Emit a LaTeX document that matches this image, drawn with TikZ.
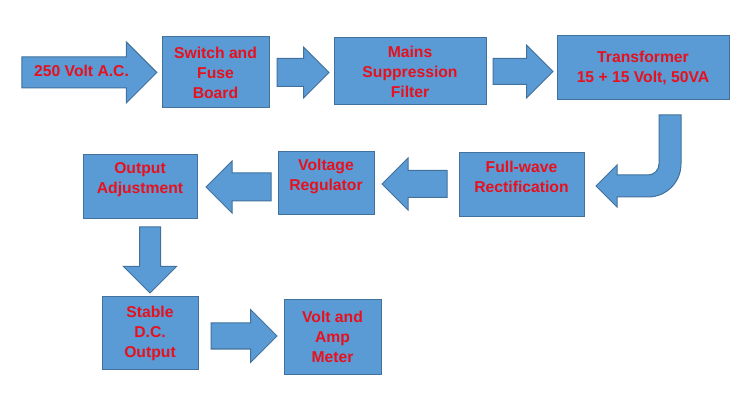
\documentclass[tikz,border=0pt]{standalone}
\usepackage{fontspec}
\setmainfont{Liberation Sans}
\usetikzlibrary{shapes.arrows,positioning}
\definecolor{boxfill}{RGB}{91,155,213}
\definecolor{boxline}{RGB}{65,113,156}
\definecolor{txtred}{RGB}{232,16,28}

\begin{document}
\begin{tikzpicture}[x=1pt,y=-1pt,
		label font/.style={text=txtred,font=\fontsize{15.7}{20}\selectfont\bfseries},
		block/.style={draw=boxline,fill=boxfill,line width=1pt,label font,align=center,inner sep=0pt},
		raised/.style={text depth=17pt},
		fatarrow/.style n args={3}{single arrow,draw=boxline,fill=boxfill,line width=1pt,label font,
			text height=0pt,text depth=0pt,inner xsep=0pt,inner ysep=#2/2,
			minimum height=#1,minimum width=0pt,single arrow head extend=#3}]
	\fill[white] (0,0) rectangle (753,406);
	\useasboundingbox (0,0) rectangle (753,406);
	
	% blocks
	\node[block,minimum width=107pt,minimum height=71pt] (switch) at (215.5,72.5) {Switch and\\Fuse\\Board};
	\node[block,minimum width=152pt,minimum height=67pt] (mains) at (410,71.5) {Mains\\Suppression\\Filter};
	\node[block,minimum width=172pt,minimum height=64pt] (trafo) at (643,68) {Transformer\\15 + 15 Volt, 50VA};
	\node[block,raised,minimum width=125pt,minimum height=64pt] (rect) at (521.5,185) {Full-wave\\Rectification};
	\node[block,raised,minimum width=96pt,minimum height=63pt] (reg) at (326,183.5) {Voltage\\Regulator};
	\node[block,raised,minimum width=114pt,minimum height=64pt] (adjust) at (140,187) {Output\\Adjustment};
	\node[block,minimum width=96pt,minimum height=72pt] (dcout) at (150,333) {Stable\\D.C.\\Output};
	\node[block,minimum width=97pt,minimum height=74pt] (meter) at (332.5,337) {Volt and\\Amp\\Meter};
	
	% block arrows
	\node[fatarrow={135pt}{30pt}{15pt},text height=11pt,text depth=3pt,inner ysep=8pt,anchor=tip] (acin)
		at ([xshift=-4pt]switch.west) {250 Volt A.C.};
	\node[fatarrow={52pt}{27pt}{11.5pt},anchor=tail] (a1) at ([xshift=7pt]switch.east) {};
	\node[fatarrow={60pt}{25pt}{13.5pt},anchor=tail] (a2) at ([xshift=6pt]mains.east) {};
	\node[fatarrow={65pt}{26pt}{12.5pt},shape border rotate=180,anchor=tail] (a4) at ([xshift=-11pt,yshift=1pt]rect.west) {};
	\node[fatarrow={65pt}{27pt}{12pt},shape border rotate=180,anchor=tail] (a5) at ([xshift=-6pt,yshift=-3.5pt]reg.west) {};
	\node[fatarrow={66pt}{0pt}{16pt},inner xsep=10pt,shape border rotate=270,anchor=tail] (a6) at ([xshift=10pt,yshift=-7pt]adjust.south) {};
	\node[fatarrow={66pt}{25pt}{13.5pt},anchor=tail] (a7) at ([xshift=12pt,yshift=-3pt]dcout.east) {};
	
	% bent arrow
	\draw[draw=boxline,fill=boxfill,line width=1pt] (659,115) -- (681,115) -- (681,164)
		arc[start angle=0,end angle=-90,radius=33pt] -- (617,197) -- (617,207) -- (596,186)
		-- (617,165) -- (617,175) -- (648,175) arc[start angle=-90,end angle=0,radius=11pt] -- cycle;
\end{tikzpicture}
\end{document}
